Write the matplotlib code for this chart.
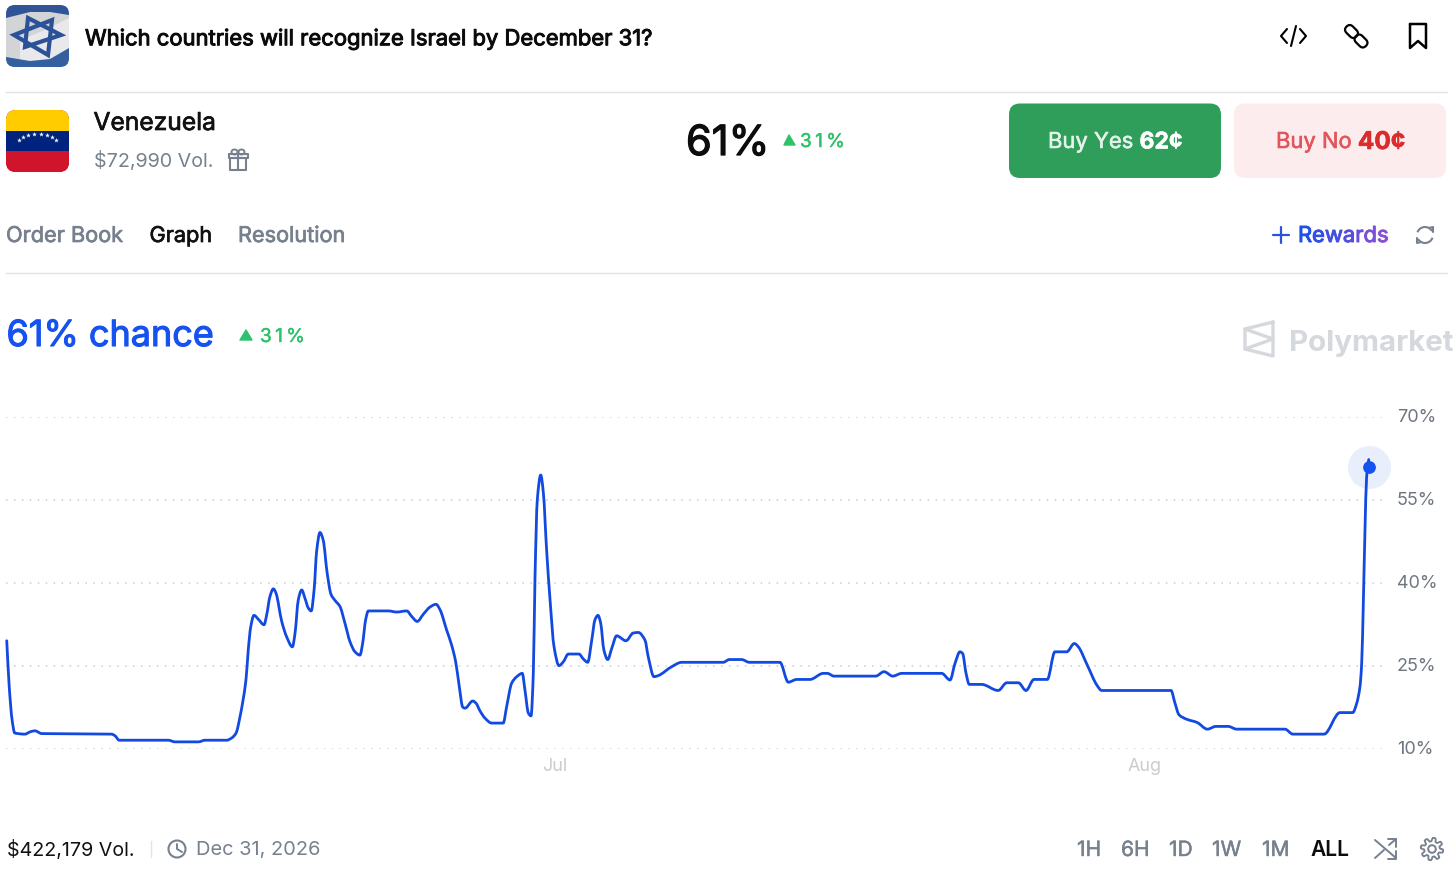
import numpy as np
import matplotlib
matplotlib.use('Agg')
import matplotlib.pyplot as plt
import matplotlib.patheffects as pe
from matplotlib.patches import FancyBboxPatch, Rectangle, Polygon, Circle, Arc, PathPatch
from matplotlib.path import Path
from matplotlib.transforms import Affine2D, ScaledTranslation
from matplotlib.colors import to_rgb

# Days from 1 Jul
days = [-28.81, -28.68, -28.53, -28.39, -27.85, -27.59, -27.33, -26.97, -23.30, -23.12, -22.90, -20.32,
        -19.97, -18.74, -18.39, -17.25, -16.99, -16.76, -16.55, -16.24, -16.12, -15.99, -15.82, -15.59,
        -15.29, -15.15, -14.98, -14.80, -14.66, -14.36, -14.10, -13.80, -13.66, -13.49, -13.31, -13.14,
        -12.96, -12.81, -12.66, -12.52, -12.35, -12.18, -11.97, -11.77, -11.56, -11.30, -11.04, -10.77,
        -10.51, -10.25, -10.11, -9.95, -9.81, -8.76, -8.32, -7.79, -7.53, -7.24, -6.92, -6.57,
        -6.25, -6.04, -5.69, -5.43, -5.22, -5.03, -4.85, -4.73, -4.32, -4.15, -3.94, -3.68,
        -3.33, -2.72, -2.54, -2.28, -2.01, -1.72, -1.58, -1.40, -1.26, -1.14, -1.05, -0.93,
        -0.75, -0.61, -0.44, -0.26, -0.05, 0.21, 0.44, 0.70, 1.26, 1.49, 1.72, 1.93,
        2.10, 2.26, 2.40, 2.57, 2.77, 2.98, 3.24, 3.73, 4.11, 4.38, 4.73, 4.90,
        5.20, 5.43, 6.13, 6.66, 8.84, 9.16, 9.81, 10.21, 11.82, 12.26, 12.70, 13.40,
        14.10, 14.31, 14.66, 16.85, 17.29, 17.75, 18.22, 20.32, 20.76, 21.02, 21.28, 21.42,
        21.60, 21.77, 22.42, 23.29, 23.74, 24.35, 24.75, 25.17, 25.87, 26.27, 26.89, 27.29,
        27.50, 27.97, 28.47, 28.73, 32.37, 32.58, 32.79, 33.19, 33.75, 34.28, 34.73, 35.38,
        35.82, 38.36, 38.77, 40.41, 41.25, 41.92, 42.13, 42.30, 42.39, 42.48, 42.56, 42.65,
        42.76]
chance = [29.5, 21.2, 15.2, 12.8, 12.6, 13.0, 13.2, 12.7, 12.6, 12.3, 11.5, 11.5,
          11.2, 11.2, 11.5, 11.5, 11.9, 12.8, 15.8, 22.4, 27.8, 32.0, 34.1, 33.4,
          32.4, 34.2, 37.5, 38.9, 38.1, 33.0, 30.2, 28.4, 30.9, 36.9, 38.7, 37.2,
          35.4, 34.9, 38.7, 45.9, 49.1, 47.7, 41.7, 37.9, 36.8, 35.7, 32.7, 29.3,
          27.5, 26.9, 29.0, 33.3, 34.9, 34.9, 34.7, 34.9, 33.9, 33.0, 34.3, 35.6,
          36.1, 35.1, 31.4, 28.7, 25.7, 21.2, 17.5, 17.3, 18.6, 18.2, 16.8, 15.5,
          14.6, 14.6, 17.6, 21.8, 23.0, 23.6, 20.6, 16.4, 15.9, 23.6, 41.1, 55.0,
          59.5, 56.2, 45.9, 36.9, 28.4, 25.0, 25.7, 27.1, 27.1, 26.2, 25.6, 29.6,
          33.3, 34.1, 32.7, 27.8, 26.1, 28.1, 30.4, 29.5, 30.9, 31.0, 29.6, 26.6,
          23.0, 23.2, 24.8, 25.6, 25.6, 26.1, 26.1, 25.6, 25.6, 22.0, 22.5, 22.5,
          23.6, 23.6, 23.1, 23.1, 23.9, 23.1, 23.6, 23.6, 22.4, 25.4, 27.5, 27.2,
          23.6, 21.6, 21.6, 20.5, 21.9, 21.9, 20.5, 22.5, 22.5, 27.5, 27.5, 29.0,
          28.4, 25.1, 21.5, 20.5, 20.5, 18.2, 16.1, 15.3, 14.7, 13.5, 14.0, 14.0,
          13.5, 13.5, 12.6, 12.6, 16.5, 16.5, 18.2, 21.2, 25.4, 36.9, 49.0, 59.2,
          62.3]
last_day = 42.76
last_chance = 61

y_ticks = [10, 25, 40, 55, 70]
y_labels = ['10%', '25%', '40%', '55%', '70%']
x_ticks = [0, 31]
x_labels = ['Jul', 'Aug']
ranges = ['1H', '6H', '1D', '1W', '1M', 'ALL']
range_x = [1077, 1121, 1169, 1212, 1262, 1310]

BLUE = '#1652f0'
LINE = '#1249e0'
GREY = '#77808d'
GREEN = '#2ec26a'

plt.rcParams['font.family'] = ['Inter', 'DejaVu Sans']
fig = plt.figure(figsize=(14.56, 8.72), dpi=100, facecolor='white')

# whole page in pixel coordinates, for the interface around the chart
ui = fig.add_axes([0, 0, 1, 1])
ui.set_xlim(0, 1456)
ui.set_ylim(872, 0)
ui.axis('off')


def px(size):
    return size / 1.389


def txt(x, y, s, size, color='black', weight='normal', ha='left', thick=0):
    # thick: thin outline, stands in for the medium weights the font does not give
    t = ui.text(x, y - 1, s, fontsize=px(size), color=color, fontweight=weight, ha=ha, va='center_baseline')
    if thick:
        t.set_path_effects([pe.withStroke(linewidth=thick, foreground=color)])
    return t


def runs(x, y, parts, thick=0.4):
    # text pieces in different colours, one after the other
    r = fig.canvas.get_renderer()
    for s, color, weight, size in parts:
        t = txt(x, y, s, size, color, weight, thick=thick)
        x += t.get_window_extent(r).width
    return x


def spaced(x, y, s, size, color, gap):
    r = fig.canvas.get_renderer()
    for c in s:
        t = txt(x, y, c, size, color, thick=0.3)
        x += t.get_window_extent(r).width + gap


def rounded(x0, y0, x1, y1, rad, color):
    p = FancyBboxPatch((x0 + rad, y0 + rad), x1 - x0 - 2 * rad, y1 - y0 - 2 * rad,
                       boxstyle='round,pad=%g,rounding_size=%g' % (rad, rad),
                       fc=color, ec='none', lw=0, zorder=2)
    ui.add_patch(p)
    return p


def stroke(xs, ys, color='black', lw=1.5):
    ui.plot(xs, ys, color=color, lw=lw, solid_capstyle='round', solid_joinstyle='round', zorder=4)


def monotone_path(xs, ys):
    # same curve type as the site's chart: monotone cubic through the read points
    xs, ys = np.array(xs), np.array(ys)
    h = np.diff(xs)
    s = np.diff(ys) / h
    m = np.zeros(len(xs))
    m[0], m[-1] = s[0], s[-1]
    for i in range(1, len(xs) - 1):
        if s[i - 1] * s[i] > 0:
            m[i] = 2 * s[i - 1] * s[i] / (s[i - 1] + s[i])
    verts = [(xs[0], ys[0])]
    codes = [Path.MOVETO]
    for i in range(len(h)):
        verts += [(xs[i] + h[i] / 3, ys[i] + m[i] * h[i] / 3),
                  (xs[i + 1] - h[i] / 3, ys[i + 1] - m[i + 1] * h[i] / 3),
                  (xs[i + 1], ys[i + 1])]
        codes += [Path.CURVE4] * 3
    return Path(verts, codes)


# Israeli flag
clip = rounded(6, 5, 69, 67, 9, '#d3d4d6')
pieces = [
    Polygon([(20, 40), (45, 30), (69, 18), (69, 50), (45, 62), (20, 62)], fc='#e9e9eb', zorder=3),
    Polygon([(6, 5), (69, 5), (69, 15), (50, 12), (30, 12), (6, 18)], fc='#2f5597', zorder=3),
    Polygon([(6, 57), (30, 61), (50, 59), (69, 48), (69, 67), (6, 67)], fc='#34609f', zorder=3),
]
for b in pieces:
    ui.add_patch(b)
    b.set_clip_path(clip)
ui.add_patch(Polygon([(28, 18), (61, 35), (25, 47)], fill=False, ec='#2b5299', lw=3.0, zorder=4))
ui.add_patch(Polygon([(52, 20), (14, 35), (48, 55)], fill=False, ec='#2b5299', lw=3.0, zorder=4))

# Venezuelan flag
clip = rounded(6, 110, 69, 172, 10, '#cf142b')
for y0, h, col in [(110, 21, '#ffcc00'), (131, 20, '#00247d'), (151, 21, '#cf142b')]:
    r = Rectangle((6, y0), 63, h, fc=col, zorder=3)
    ui.add_patch(r)
    r.set_clip_path(clip)
ang = np.radians(np.linspace(205, 335, 8))
ui.scatter(37.5 + 20 * np.cos(ang), 145 + 11 * np.sin(ang), s=13, marker='*', color='white', lw=0, zorder=5)

txt(85, 38, 'Which countries will recognize Israel by December 31?', 22, '#0b0b0c', thick=0.7)
txt(93.5, 122, 'Venezuela', 24.6, '#111111', thick=0.5)
txt(94, 160, '$72,990 Vol.', 19.7, GREY)

# gift icon
stroke([230, 246, 246, 230, 230], [158, 158, 170, 170, 158], GREY)
stroke([238, 238], [153, 170], GREY)
stroke([228.5, 247.5, 247.5, 228.5, 228.5], [154, 154, 158, 158, 154], GREY)
ui.add_patch(Arc((234.5, 152), 6, 5, fc='none', ec=GREY, lw=1.4, zorder=4))
ui.add_patch(Arc((241.5, 152), 6, 5, fc='none', ec=GREY, lw=1.4, zorder=4))

# header icons
stroke([1287, 1281, 1287], [29, 36, 43])
stroke([1300, 1306, 1300], [29, 36, 43])
stroke([1291, 1296], [46, 26])
for cx, cy in [(1351.5, 31.5), (1361, 41)]:
    ui.add_patch(FancyBboxPatch((cx - 3, cy - 0.5), 6, 1, boxstyle='round,pad=4,rounding_size=4.5',
                                fc='none', ec='black', lw=1.6, zorder=4,
                                transform=Affine2D().rotate_deg_around(cx, cy, 45) + ui.transData))
stroke([1410, 1426, 1426, 1418, 1410, 1410], [24, 24, 48, 41, 48, 24], lw=1.8)

ui.plot([6, 1447], [92, 92], color='#dfe1e4', lw=1)
ui.plot([6, 1447], [273, 273], color='#dfe1e4', lw=1)

txt(686, 141, '61%', 41.5, '#0c0c0d', thick=0.9)
ui.add_patch(Polygon([(784, 145), (789, 135), (795, 145)], fc=GREEN, ec=GREEN, lw=1, joinstyle='round'))
spaced(800, 141, '31%', 19, GREEN, 3.4)

# buy buttons
rounded(1009, 103.5, 1221, 178, 11, '#2f9e5a')
rounded(1234, 103.5, 1446, 178, 11, '#fdecee')
runs(1048, 141, [('Buy Yes ', '#e4f3e9', 'normal', 22), ('62¢', 'white', 'bold', 23)])
runs(1276, 141, [('Buy No ', '#e2555a', 'normal', 22), ('40¢', '#d92d2d', 'bold', 24.5)])

# tabs
txt(6, 235, 'Order Book', 21.7, GREY, thick=0.5)
txt(149.5, 235, 'Graph', 21.7, '#111111', thick=0.5)
txt(238, 235, 'Resolution', 21.7, GREY, thick=0.5)

# rewards, colour runs from blue to purple
stroke([1273, 1289], [235, 235], '#2a52e0', 1.6)
stroke([1281, 1281], [227, 243], '#2a52e0', 1.6)
word = 'Rewards'
c0, c1 = np.array(to_rgb('#1f4fe6')), np.array(to_rgb('#8a4fd8'))
parts = [(ch, tuple(c0 + (c1 - c0) * i / 6), 'normal', 22) for i, ch in enumerate(word)]
runs(1298, 235, parts, thick=0.7)

# refresh icon
ui.add_patch(Arc((1425, 235), 16, 16, theta1=200, theta2=330, ec=GREY, lw=1.5, zorder=4))
ui.add_patch(Arc((1425, 235), 16, 16, theta1=20, theta2=150, ec=GREY, lw=1.5, zorder=4))
stroke([1417, 1417, 1421], [238, 243, 242], GREY)
stroke([1433, 1433, 1429], [232, 227, 228], GREY)

txt(6.5, 334, '61% chance', 36, BLUE, thick=0.8)
ui.add_patch(Polygon([(240, 340), (246, 330), (252, 340)], fc=GREEN, ec=GREEN, lw=1, joinstyle='round'))
spaced(260, 336, '31%', 19, GREEN, 3.4)

# watermark
LOGO = '#d5d8dc'
stroke([1273, 1273, 1245, 1245, 1273], [322, 356, 349, 329, 322], LOGO, 2.4)
stroke([1245, 1273, 1245], [329, 339, 349], LOGO, 2.4)
txt(1289, 341, 'Polymarket', 29.5, LOGO, 'bold')

# footer
txt(7, 849, '$422,179 Vol.', 19.7, '#111111')
ui.plot([151, 151], [841, 857], color='#e3e5e8', lw=1)
ui.add_patch(Circle((177, 849), 8.5, fill=False, ec=GREY, lw=1.5, zorder=4))
stroke([177, 177, 182], [844, 849, 852], GREY, 1.4)
txt(196, 849, 'Dec 31, 2026', 20, GREY)
for s, x in zip(ranges, range_x):
    if s == 'ALL':
        txt(x, 849, s, 21, '#0c0c0d', 'semibold')
    else:
        txt(x, 849, s, 21, GREY, thick=0.3)

# shuffle icon
stroke([1375, 1396], [840, 858], GREY, 1.4)
stroke([1375, 1384], [858, 850], GREY, 1.4)
stroke([1389, 1396], [845, 839], GREY, 1.4)
stroke([1388, 1396, 1396], [839, 839, 847], GREY, 1.4)
stroke([1388, 1396, 1396], [859, 859, 851], GREY, 1.4)

# gear icon
ui.add_patch(Circle((1432, 849), 3.8, fill=False, ec=GREY, lw=1.4, zorder=4))
a = np.linspace(0, 2 * np.pi, 97)
r = 9.5 + 1.8 * np.tanh(3 * np.sin(8 * a))
stroke(1432 + r * np.cos(a), 849 + r * np.sin(a), GREY, 1.3)

# the chart itself
ax = fig.add_axes([6 / 1456, 1 - 748.5 / 872, (1383 - 6) / 1456, (748.5 - 417) / 872], facecolor='none')
ax.set_xlim((6 - 555) / 19.03, (1383 - 555) / 19.03)
ax.set_ylim(10, 70)
for s in ax.spines.values():
    s.set_visible(False)
ax.yaxis.tick_right()
ax.set_yticks(y_ticks)
ax.set_yticklabels(y_labels, fontsize=px(18), color='#6f7680')
ax.set_xticks(x_ticks)
ax.set_xticklabels(x_labels, fontsize=px(18), color='#c9ccd1')
ax.tick_params(length=0)
ax.tick_params(axis='y', pad=10)
ax.tick_params(axis='x', pad=7)
ax.grid(axis='y', color='#c9cdd2', lw=1.1, linestyle=(0, (1, 4.2)))
ax.set_axisbelow(True)
up = ScaledTranslation(0, 1.5 / 100, fig.dpi_scale_trans)
for lab in ax.get_yticklabels():
    lab.set_transform(lab.get_transform() + up)

ax.add_patch(PathPatch(monotone_path(days, chance), fill=False, ec=LINE, lw=2.0, joinstyle='round',
                       capstyle='round', clip_on=False, zorder=3))
ax.plot([last_day], [last_chance], 'o', ms=31, color='#e8eefc', mew=0, clip_on=False, zorder=2)
ax.plot([last_day], [last_chance], 'o', ms=9.2, color=BLUE, mew=0, clip_on=False, zorder=4)

fig.savefig('out.png', dpi=100)
